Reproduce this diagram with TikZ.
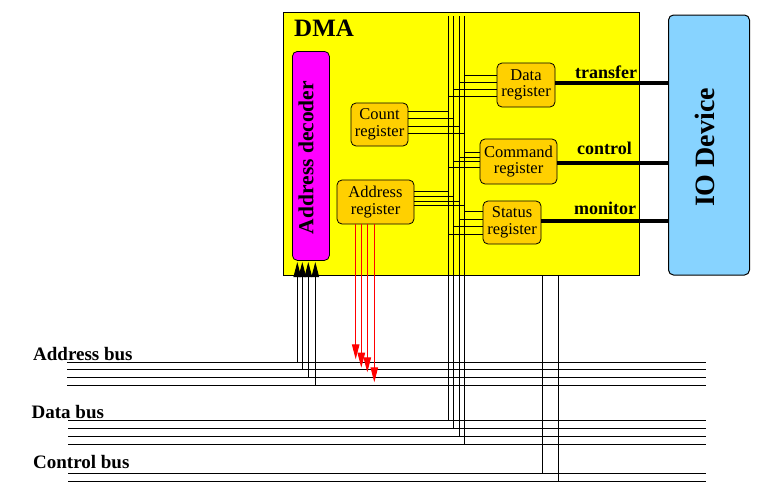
\documentclass[tikz,border=0pt]{standalone}
\usepackage{fontspec}
\setmainfont{Liberation Serif}
\usetikzlibrary{arrows.meta,calc}
\definecolor{dmayellow}{RGB}{255,255,0}
\definecolor{reggold}{RGB}{255,208,0}
\definecolor{iob}{RGB}{135,211,255}
\definecolor{decmag}{RGB}{255,0,255}
\newcommand{\regfnt}{\fontsize{16.5}{16.5}\selectfont}
\begin{document}
\begin{tikzpicture}[x=1pt,y=-1pt,
  wire/.style={line width=0.9pt},
  fatwire/.style={line width=3.8pt},
  regbox/.style={draw, line width=0.8pt, fill=reggold, rounded corners=5pt, align=center, inner sep=0pt, font=\regfnt},
  buslbl/.style={font={\bfseries\fontsize{19}{19}\selectfont}, anchor=base west, inner sep=0pt},
  siglbl/.style={font={\bfseries\fontsize{18}{18}\selectfont}, anchor=base west, inner sep=0pt},
  uparrow/.style={wire, -{Triangle[length=15pt,width=7.5pt]}},
  redarrow/.style={wire, red, -{Triangle[length=15pt,width=7.5pt]}}]
\useasboundingbox (0,0) rectangle (766,498);

% main boxes
\node[draw, line width=1pt, fill=dmayellow, minimum width=356, minimum height=263, inner sep=0pt, anchor=north west] (dma) at (283,12) {};
\node[anchor=base west, inner sep=0pt, font={\bfseries\fontsize{25}{25}\selectfont}] (dmalbl) at (294,36.5) {DMA};
\node[draw, line width=1pt, fill=iob, rounded corners=5pt, minimum width=81, minimum height=260, inner sep=0pt, anchor=north west] (io) at (668,14.5) {};
\node[rotate=90, inner sep=0pt, font={\bfseries\fontsize{28}{28}\selectfont}] (iolbl) at (705,147.5) {IO Device};
\node[draw, line width=0.8pt, fill=decmag, rounded corners=5pt, minimum width=37, minimum height=209, inner sep=0pt, anchor=north west] (dec) at (292,51) {};
\node[rotate=90, inner sep=0pt, font={\bfseries\fontsize{21.5}{21.5}\selectfont}] (declbl) at (306,157.5) {Address decoder};

% bus coordinates
\coordinate (ab1) at (67,362);   \coordinate (ab1r) at (706,362);
\coordinate (ab2) at (67,369.5); \coordinate (ab2r) at (706,369.5);
\coordinate (ab3) at (67,377.5); \coordinate (ab3r) at (706,377.5);
\coordinate (ab4) at (67,385);   \coordinate (ab4r) at (706,385);
\coordinate (db1) at (68,420);   \coordinate (db1r) at (706,420);
\coordinate (db2) at (68,428);   \coordinate (db2r) at (706,428);
\coordinate (db3) at (68,436);   \coordinate (db3r) at (706,436);
\coordinate (db4) at (68,444);   \coordinate (db4r) at (706,444);
\coordinate (cb1) at (68,473);   \coordinate (cb1r) at (706,473);
\coordinate (cb2) at (68,481);   \coordinate (cb2r) at (706,481);
\foreach \a in {ab1,ab2,ab3,ab4,db1,db2,db3,db4,cb1,cb2}
  \draw[wire] (\a) -- (\a r);

\node[buslbl] (ablbl) at (33,360) {Address bus};
\node[buslbl] (dblbl) at (31.5,418) {Data bus};
\node[buslbl] (cblbl) at (33,468) {Control bus};

% internal bus
\coordinate (ib1) at (448,16);
\coordinate (ib2) at (453.3,16);
\coordinate (ib3) at (459.3,16);
\coordinate (ib4) at (464.3,16);
\draw[wire] (ib1) -- (ib1 |- db1);
\draw[wire] (ib2) -- (ib2 |- db2);
\draw[wire] (ib3) -- (ib3 |- db3);
\draw[wire] (ib4) -- (ib4 |- db4);

% registers
\node[regbox, minimum width=58, minimum height=44] (datareg) at (526,85) {Data\\register};
\node[regbox, minimum width=57, minimum height=43] (countreg) at (379.5,124.5) {Count\\register};
\node[regbox, minimum width=77, minimum height=44] (addrreg) at (375.5,202) {Address\\register};
\node[regbox, minimum width=77, minimum height=45] (cmdreg) at (518.5,161.5) {Command\\register};
\node[regbox, minimum width=58, minimum height=43] (statreg) at (512,222.5) {Status\\register};

% register to internal bus
\foreach \yy/\b in {75.3/ib4, 82/ib3, 89.3/ib2, 96.3/ib1}
  \draw[wire] (datareg.west |- 0,\yy) -- (\b |- 0,\yy);
\foreach \yy/\b in {111.3/ib1, 118/ib2, 126.3/ib3, 133.3/ib4}
  \draw[wire] (countreg.east |- 0,\yy) -- (\b |- 0,\yy);
\foreach \yy/\b in {191.5/ib1, 196.7/ib2, 201.8/ib3, 205.3/ib4}
  \draw[wire] (addrreg.east |- 0,\yy) -- (\b |- 0,\yy);
\foreach \yy/\b in {152.5/ib4, 157.3/ib3, 161.7/ib2, 167.5/ib1}
  \draw[wire] (cmdreg.west |- 0,\yy) -- (\b |- 0,\yy);
\foreach \yy/\b in {211.7/ib4, 219.3/ib3, 226.7/ib2, 234.3/ib1}
  \draw[wire] (statreg.west |- 0,\yy) -- (\b |- 0,\yy);

% registers to IO device
\draw[fatwire] (datareg.east |- 0,83.3) -- (io.west |- 0,83.3);
\draw[fatwire] (cmdreg.east |- 0,162.7) -- (io.west |- 0,162.7);
\draw[fatwire] (statreg.east |- 0,220.7) -- (io.west |- 0,220.7);
\node[siglbl] (trlbl) at (575,78) {transfer};
\node[siglbl] (ctlbl) at (577,154.5) {control};
\node[siglbl] (mnlbl) at (574,214.5) {monitor};

% control bus from DMA
\draw[wire] (dma.south -| 542.3,0) -- (542.3,0 |- cb1);
\draw[wire] (dma.south -| 558.3,0) -- (558.3,0 |- cb2);

% address bus to decoder
\draw[uparrow] (297.3,0 |- ab1) -- (297.3,262);
\draw[uparrow] (302.3,0 |- ab2) -- (302.3,262);
\draw[uparrow] (308.3,0 |- ab3) -- (308.3,262);
\draw[uparrow] (315.3,0 |- ab4) -- (315.3,262);

% address register to address bus
\draw[redarrow] (addrreg.south -| 355.7,0) -- (355.7,359.3);
\draw[redarrow] (addrreg.south -| 361.3,0) -- (361.3,367.7);
\draw[redarrow] (addrreg.south -| 367.3,0) -- (367.3,372.3);
\draw[redarrow] (addrreg.south -| 374.3,0) -- (374.3,382.3);
\end{tikzpicture}
\end{document}
